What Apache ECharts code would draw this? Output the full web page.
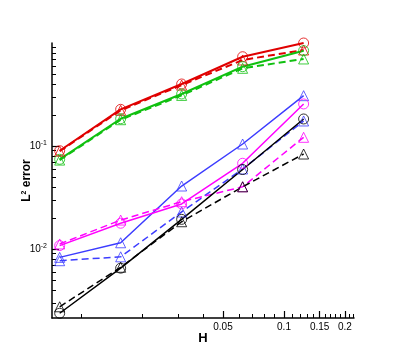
<!DOCTYPE html>
<html>
<head>
<meta charset="utf-8">
<script src="https://cdn.jsdelivr.net/npm/echarts@6/dist/echarts.min.js"></script>
<style>
html,body{margin:0;padding:0;background:#fff;}
#main{width:403px;height:359px;}
</style>
</head>
<body>
<div id="main"></div>
<script>
// mesh size H
var hList = [1/128, 1/64, 1/32, 1/16, 1/8];

// L2 error per curve (solid = circles, dashed = triangles)
var redSolid     = [0.090, 0.227, 0.400, 0.736, 1.000];
var redDashed    = [0.089, 0.222, 0.390, 0.684, 0.855];
var greenSolid   = [0.0743, 0.184, 0.320, 0.589, 0.842];
var greenDashed  = [0.073, 0.180, 0.310, 0.568, 0.700];
var blueSolid    = [0.0083, 0.0115, 0.0409, 0.1046, 0.308];
var blueDashed   = [0.0077, 0.0084, 0.0229, 0.0598, 0.175];
var pinkSolid    = [0.0108, 0.0178, 0.0274, 0.068, 0.256];
var pinkDashed   = [0.0112, 0.0191, 0.0288, 0.0402, 0.1215];
var blackSolid   = [0.00238, 0.00652, 0.0194, 0.0591, 0.183];
var blackDashed  = [0.00275, 0.00665, 0.0184, 0.0402, 0.0836];

// ticks
var xLabelVals = [0.05, 0.1, 0.15, 0.2];
var xMinorVals = [0.01, 0.02, 0.03, 0.04, 0.06, 0.07, 0.08, 0.09,
                  0.11, 0.12, 0.13, 0.14, 0.16, 0.17, 0.18, 0.19, 0.21, 0.22];
var yLabelVals = [0.01, 0.1];
var yMinorVals = [0.003, 0.004, 0.005, 0.006, 0.007, 0.008, 0.009,
                  0.02, 0.03, 0.04, 0.05, 0.06, 0.07, 0.08, 0.09,
                  0.2, 0.3, 0.4, 0.5, 0.6, 0.7, 0.8, 0.9];

var xMin = 0.00716, xMax = 0.2216;
var yMin = 0.00214, yMax = 1.0;

var chart = echarts.init(document.getElementById('main'));

function mkSeries(data, color, dashed, sym, width) {
    return {
        type: 'line',
        data: hList.map(function (h, i) { return [h, data[i]]; }),
        symbol: sym,
        symbolSize: 10,
        showAllSymbol: true,
        lineStyle: {color: color, width: width, type: dashed ? [7, 4] : 'solid'},
        itemStyle: {color: 'rgba(0,0,0,0)', borderColor: color, borderWidth: 1, opacity: 0.8},
        emphasis: {disabled: true},
        animation: false
    };
}

// extra axis that only draws the short minor ticks
function minorAxis(min, max, vals, pos) {
    return {
        type: 'log', logBase: 10, min: min, max: max, position: pos,
        axisLine: {show: false},
        axisTick: {inside: true, length: 4, lineStyle: {color: '#000', width: 1}, customValues: vals},
        axisLabel: {show: false},
        splitLine: {show: false}
    };
}

var option = {
    animation: false,
    grid: {left: 52, top: 43, right: 49, bottom: 41},
    xAxis: [{
        type: 'log', logBase: 10,
        min: xMin, max: xMax,
        name: 'H', nameLocation: 'middle', nameGap: 14, nameMoveOverlap: false,
        nameTextStyle: {fontFamily: 'Liberation Sans', fontWeight: 'bold', fontSize: 13, color: '#000'},
        axisLine: {lineStyle: {color: '#000', width: 1.5}},
        axisTick: {inside: true, length: 7, lineStyle: {color: '#000', width: 1.2}, customValues: xLabelVals},
        axisLabel: {customValues: xLabelVals, margin: 4, fontFamily: 'Liberation Sans', fontSize: 10, color: '#000',
            formatter: function (v) { return String(+v.toPrecision(3)); }},
        splitLine: {show: false}
    }, minorAxis(xMin, xMax, xMinorVals, 'bottom')],
    yAxis: [{
        type: 'log', logBase: 10,
        min: yMin, max: yMax,
        name: '{a|L}{s|2}{a| error}', nameLocation: 'middle', nameGap: 19, nameRotate: 90, nameMoveOverlap: false,
        nameTextStyle: {rich: {
            a: {fontFamily: 'Liberation Sans', fontWeight: 'bold', fontSize: 12, color: '#000'},
            s: {fontFamily: 'Liberation Sans', fontWeight: 'bold', fontSize: 7, color: '#000', verticalAlign: 'top', padding: [0, 0, 5, 0]}
        }},
        axisLine: {lineStyle: {color: '#000', width: 1.5}},
        axisTick: {inside: true, length: 7, lineStyle: {color: '#000', width: 1.2}, customValues: yLabelVals},
        axisLabel: {customValues: yLabelVals, margin: 5,
            formatter: function (v) {
                var e = Math.round(Math.log10(v));
                return '{n|10}{s|' + (e < 0 ? '-' : '') + Math.abs(e) + '}';
            },
            rich: {
                n: {fontFamily: 'Liberation Sans', fontSize: 10, color: '#000'},
                s: {fontFamily: 'Liberation Sans', fontSize: 7, color: '#000', verticalAlign: 'top', padding: [0, 0, 5, 0]}
            }},
        splitLine: {show: false}
    }, minorAxis(yMin, yMax, yMinorVals, 'left')],
    series: [
        mkSeries(redSolid, '#e00000', false, 'circle', 2),
        mkSeries(redDashed, '#e00000', true, 'triangle', 2),
        mkSeries(greenSolid, '#10c010', false, 'circle', 2),
        mkSeries(greenDashed, '#10c010', true, 'triangle', 2),
        mkSeries(blueSolid, '#3c3cff', false, 'triangle', 1.5),
        mkSeries(blueDashed, '#3c3cff', true, 'triangle', 1.5),
        mkSeries(pinkSolid, '#ff00ff', false, 'circle', 1.5),
        mkSeries(pinkDashed, '#ff00ff', true, 'triangle', 1.5),
        mkSeries(blackSolid, '#000000', false, 'circle', 1.5),
        mkSeries(blackDashed, '#000000', true, 'triangle', 1.5)
    ]
};
chart.setOption(option);
</script>
</body>
</html>
